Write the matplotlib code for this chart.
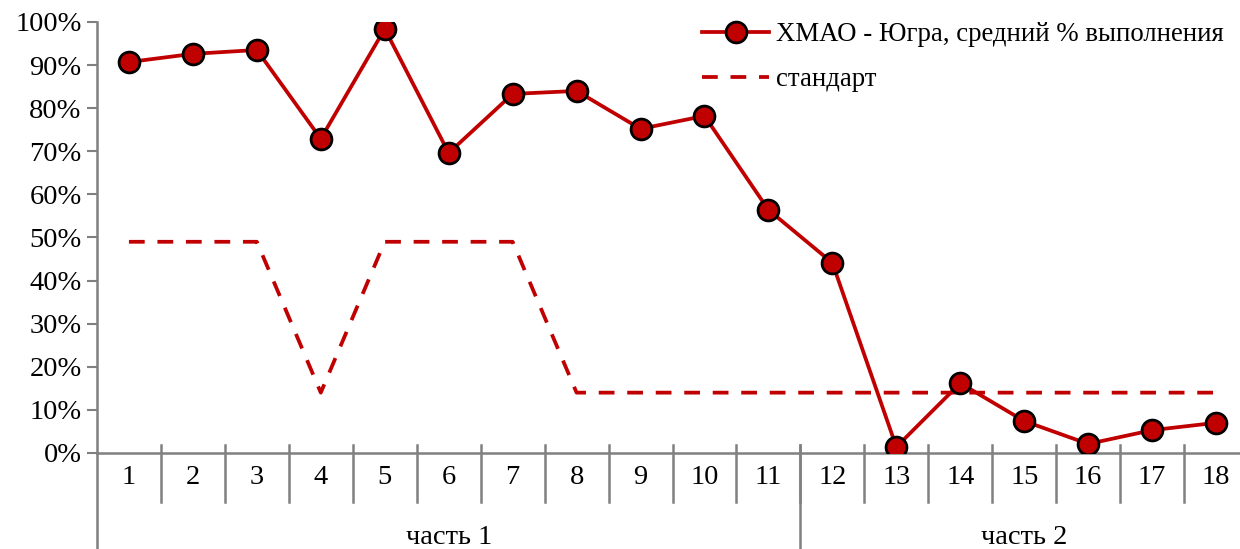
import matplotlib
matplotlib.use("Agg")
import matplotlib.pyplot as plt
from matplotlib.ticker import PercentFormatter

plt.rcParams['font.family'] = ['Liberation Serif', 'DejaVu Serif']

# данные
categories = [str(i) for i in range(1, 19)]
vypolnenie = [90.7, 92.6, 93.5, 72.9, 98.4, 69.6, 83.3, 84.0, 75.2, 78.2,
              56.4, 44.1, 1.4, 16.2, 7.4, 2.1, 5.3, 7.0]
standart = [49, 49, 49, 14, 49, 49, 49, 14, 14, 14, 14, 14, 14, 14, 14, 14, 14, 14]
groups = ['часть 1', 'часть 2']
group_sizes = [11, 7]

red = '#C00000'
gray = '#808080'
fs = 20.5

fig = plt.figure(figsize=(12.4, 5.49), dpi=100)
ax = fig.add_axes([0.0782, 0.1749, 0.9283, 0.7851])

x = list(range(len(categories)))
ax.plot(x, vypolnenie, color=red, lw=2.7, marker='o', markersize=15,
        markerfacecolor=red, markeredgecolor='black', markeredgewidth=2,
        label='ХМАО - Югра, средний % выполнения', zorder=3)
ax.plot(x, standart, color=red, lw=2.7, dashes=(4.2, 3.4), label='стандарт', zorder=2)

ax.set_xlim(-0.5, len(categories) - 0.5)
ax.set_ylim(0, 100)
ax.set_yticks(range(0, 101, 10))
ax.yaxis.set_major_formatter(PercentFormatter(decimals=0))
ax.tick_params(axis='y', labelsize=fs, length=7, width=1.5, color=gray, pad=4)
ax.set_xticks([])

for s in ['top', 'right']:
    ax.spines[s].set_visible(False)
for s in ['left', 'bottom']:
    ax.spines[s].set_color(gray)
    ax.spines[s].set_linewidth(1.8)

tr = ax.get_xaxis_transform()
# левая ось вниз
ax.plot([-0.5, -0.5], [0, -0.26], transform=tr, color=gray, lw=1.8, clip_on=False)
# границы категорий
for i in range(1, len(categories)):
    ax.plot([i - 0.5, i - 0.5], [0.0186, -0.114], transform=tr, color=gray,
            lw=1.8, clip_on=False)
for i, c in enumerate(categories):
    ax.text(i, -0.058, c, transform=tr, ha='center', va='center', fontsize=fs)

# группы
start = 0
for g, n in zip(groups, group_sizes):
    ax.text(start + (n - 1) / 2, -0.197, g, transform=tr, ha='center',
            va='center', fontsize=fs)
    start += n
    if start < len(categories):
        ax.plot([start - 0.5, start - 0.5], [0.0186, -0.26], transform=tr,
                color=gray, lw=1.8, clip_on=False)

leg = ax.legend(loc='upper right', bbox_to_anchor=(1.0, 1.055), frameon=False,
                fontsize=19.3, handlelength=2.5, handletextpad=0.25, labelspacing=0.75)

fig.savefig('out.png', dpi=100)
